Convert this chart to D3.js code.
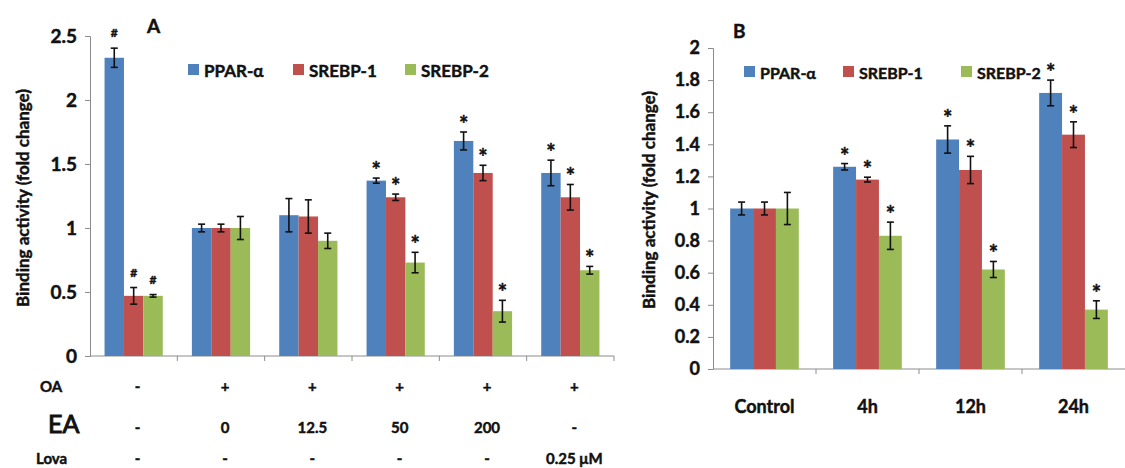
<!DOCTYPE html>
<html>
<head>
<meta charset="utf-8">
<script src="https://cdn.jsdelivr.net/npm/d3@7"></script>
<style>
  body { margin: 0; background: #fff; }
  svg text {
    font-family: Lato, 'Open Sans', sans-serif; font-weight: bold; fill: #111;
    stroke: #111; stroke-width: 0.45px;
  }
  .axis path, .axis line { stroke: #8c8c8c; }
</style>
</head>
<body>
<div id="chart"></div>
<script>
// series
var SERIES = ['PPAR-α', 'SREBP-1', 'SREBP-2'];
var COLORS = ['#4f81bd', '#c0504d', '#9bbb59'];

// panel A (OA / EA / Lova treatments)
var A_PPAR = [2.33, 1.0, 1.10, 1.37, 1.68, 1.43];
var A_PPAR_ERR = [0.075, 0.03, 0.13, 0.02, 0.07, 0.10];
var A_SREBP1 = [0.47, 1.0, 1.09, 1.24, 1.43, 1.24];
var A_SREBP1_ERR = [0.065, 0.03, 0.13, 0.025, 0.06, 0.10];
var A_SREBP2 = [0.47, 1.0, 0.90, 0.73, 0.35, 0.67];
var A_SREBP2_ERR = [0.01, 0.09, 0.06, 0.08, 0.085, 0.03];
var A_MARKS = [
  ['#', '', '', '*', '*', '*'],
  ['#', '', '', '*', '*', '*'],
  ['#', '', '', '*', '*', '*'],
];
var A_TICKS = [0, 0.5, 1, 1.5, 2, 2.5];
var OA_ROW = ['-', '+', '+', '+', '+', '+'];
var EA_ROW = ['-', '0', '12.5', '50', '200', '-'];
var LOVA_ROW = ['-', '-', '-', '-', '-', '0.25 μM'];

// panel B (time course)
var B_GROUPS = ['Control', '4h', '12h', '24h'];
var B_PPAR = [1.0, 1.26, 1.43, 1.72];
var B_PPAR_ERR = [0.04, 0.02, 0.085, 0.08];
var B_SREBP1 = [1.0, 1.18, 1.24, 1.46];
var B_SREBP1_ERR = [0.04, 0.015, 0.085, 0.08];
var B_SREBP2 = [1.0, 0.83, 0.62, 0.37];
var B_SREBP2_ERR = [0.1, 0.085, 0.05, 0.055];
var B_MARKS = [
  ['', '*', '*', '*'],
  ['', '*', '*', '*'],
  ['', '*', '*', '*'],
];
var B_TICKS = [0, 0.2, 0.4, 0.6, 0.8, 1, 1.2, 1.4, 1.6, 1.8, 2];

var svg = d3.select('#chart').append('svg')
  .attr('width', 1125)
  .attr('height', 468);

var buildRows = function (groups, vals, errs, marks) {
  return groups.map(function (g, i) {
    return vals.map(function (v, s) {
      return { group: g, series: s, value: v[i], err: errs[s][i], mark: marks[s][i] };
    });
  });
};

var renderPanel = function (cfg) {
  var x = d3.scaleBand().domain(cfg.groups).range([cfg.left, cfg.right]);
  var xInner = d3.scaleBand().domain(d3.range(SERIES.length))
    .range([0, x.bandwidth()]).paddingInner(0).paddingOuter(0.75);
  var y = d3.scaleLinear().domain(cfg.yDomain).range([cfg.bottom, cfg.top]);

  var g = svg.append('g');

  // y axis
  var yAxis = g.append('g')
    .attr('class', 'axis')
    .attr('transform', 'translate(' + cfg.left + ',0)')
    .call(d3.axisLeft(y).tickValues(cfg.ticks).tickSize(5).tickPadding(8)
      .tickFormat(d3.format('~g')));
  yAxis.selectAll('text').style('font-size', cfg.tickFont + 'px').attr('fill', '#111');

  // x axis (ticks between categories)
  var xAxis = g.append('g').attr('class', 'axis');
  xAxis.append('line')
    .attr('x1', cfg.left).attr('x2', cfg.right)
    .attr('y1', y(0)).attr('y2', y(0))
    .attr('stroke', '#8c8c8c');
  xAxis.selectAll('.sep')
    .data(cfg.groups.slice(1).concat(cfg.endTick ? ['__end'] : []))
    .enter().append('line')
    .attr('class', 'sep')
    .attr('x1', function (d) { return d === '__end' ? cfg.right : x(d); })
    .attr('x2', function (d) { return d === '__end' ? cfg.right : x(d); })
    .attr('y1', y(0)).attr('y2', y(0) + 5)
    .attr('stroke', '#8c8c8c');

  var groups = g.selectAll('.grp')
    .data(cfg.rows)
    .enter().append('g')
    .attr('class', 'grp')
    .attr('transform', function (d, i) { return 'translate(' + x(cfg.groups[i]) + ',0)'; });

  var bars = groups.selectAll('.bar')
    .data(function (d) { return d; })
    .enter().append('g');

  bars.append('rect')
    .attr('x', function (d) { return xInner(d.series); })
    .attr('width', xInner.bandwidth())
    .attr('y', function (d) { return y(d.value); })
    .attr('height', function (d) { return y(0) - y(d.value); })
    .attr('fill', function (d) { return COLORS[d.series]; });

  // error bars
  var cx = function (d) { return xInner(d.series) + xInner.bandwidth() / 2; };
  bars.append('line')
    .attr('x1', cx).attr('x2', cx)
    .attr('y1', function (d) { return y(d.value + d.err); })
    .attr('y2', function (d) { return y(d.value - d.err); })
    .attr('stroke', '#111').attr('stroke-width', 1.6);
  [1, -1].forEach(function (sign) {
    bars.append('line')
      .attr('x1', function (d) { return cx(d) - 3.5; })
      .attr('x2', function (d) { return cx(d) + 3.5; })
      .attr('y1', function (d) { return y(d.value + sign * d.err); })
      .attr('y2', function (d) { return y(d.value + sign * d.err); })
      .attr('stroke', '#111').attr('stroke-width', 1.6);
  });

  // significance marks
  bars.filter(function (d) { return d.mark; })
    .append('text')
    .attr('x', cx)
    .attr('y', function (d) { return y(d.value + d.err) - (d.mark === '#' ? 11 : 0); })
    .attr('text-anchor', 'middle')
    .style('font-size', function (d) { return d.mark === '#' ? '12px' : '22px'; })
    .text(function (d) { return d.mark; });

  // panel letter
  g.append('text')
    .attr('x', cfg.letterX).attr('y', cfg.letterY)
    .style('font-size', '19px')
    .text(cfg.letter);

  // y title
  g.append('text')
    .attr('transform', 'translate(' + cfg.titleX + ',' + cfg.titleY + ') rotate(-90)')
    .attr('text-anchor', 'middle')
    .attr('dominant-baseline', 'central')
    .style('font-size', '17px')
    .text('Binding activity (fold change)');

  // legend
  var legend = g.append('g')
    .attr('transform', 'translate(' + cfg.legendX + ',' + cfg.legendY + ')');
  var lx = 0;
  SERIES.forEach(function (name, i) {
    legend.append('rect')
      .attr('x', lx).attr('y', -6).attr('width', 11).attr('height', 11)
      .attr('fill', COLORS[i]);
    legend.append('text')
      .attr('x', lx + 16).attr('y', 0)
      .attr('dominant-baseline', 'central')
      .style('font-size', cfg.legendFont + 'px')
      .text(name);
    lx += cfg.legendStep[i];
  });

  return x;
};

// Panel A
var aGroups = d3.range(A_PPAR.length).map(String);
var xA = renderPanel({
  groups: aGroups,
  rows: buildRows(aGroups, [A_PPAR, A_SREBP1, A_SREBP2],
    [A_PPAR_ERR, A_SREBP1_ERR, A_SREBP2_ERR], A_MARKS),
  left: 90, right: 614, top: 36, bottom: 356,
  yDomain: [0, 2.5], ticks: A_TICKS, tickFont: 19, endTick: true,
  letter: 'A', letterX: 147, letterY: 33,
  titleX: 22, titleY: 198,
  legendX: 188, legendY: 70, legendStep: [105, 112, 0], legendFont: 17,
});

// treatment table under panel A
var tableRows = [
  { label: 'OA', values: OA_ROW, y: 392, labelX: 40, labelSize: 15, labelWeight: 'bold', labelStroke: 0.45 },
  { label: 'EA', values: EA_ROW, y: 433, labelX: 48, labelSize: 25, labelWeight: 'normal', labelStroke: 1 },
  { label: 'Lova', values: LOVA_ROW, y: 464, labelX: 36, labelSize: 15, labelWeight: 'bold', labelStroke: 0.45 },
];
tableRows.forEach(function (row) {
  svg.append('text')
    .attr('x', row.labelX).attr('y', row.y)
    .style('font-size', row.labelSize + 'px')
    .style('font-weight', row.labelWeight)
    .style('stroke-width', row.labelStroke + 'px')
    .text(row.label);
  svg.selectAll(null)
    .data(row.values)
    .enter().append('text')
    .attr('x', function (d, i) { return xA(aGroups[i]) + xA.bandwidth() / 2 + 4; })
    .attr('y', row.y)
    .attr('text-anchor', 'middle')
    .style('font-size', '15px')
    .text(function (d) { return d; });
});

// Panel B
var xB = renderPanel({
  groups: B_GROUPS,
  rows: buildRows(B_GROUPS, [B_PPAR, B_SREBP1, B_SREBP2],
    [B_PPAR_ERR, B_SREBP1_ERR, B_SREBP2_ERR], B_MARKS),
  left: 713, right: 1125, top: 48, bottom: 369,
  yDomain: [0, 2], ticks: B_TICKS, tickFont: 18, endTick: false,
  letter: 'B', letterX: 733, letterY: 38,
  titleX: 648, titleY: 200,
  legendX: 744, legendY: 72, legendStep: [99, 118, 0], legendFont: 16,
});

svg.selectAll('.blabel')
  .data(B_GROUPS)
  .enter().append('text')
  .attr('x', function (d) { return xB(d) + xB.bandwidth() / 2; })
  .attr('y', 413)
  .attr('text-anchor', 'middle')
  .style('font-size', '18px')
  .text(function (d) { return d; });
</script>
</body>
</html>
